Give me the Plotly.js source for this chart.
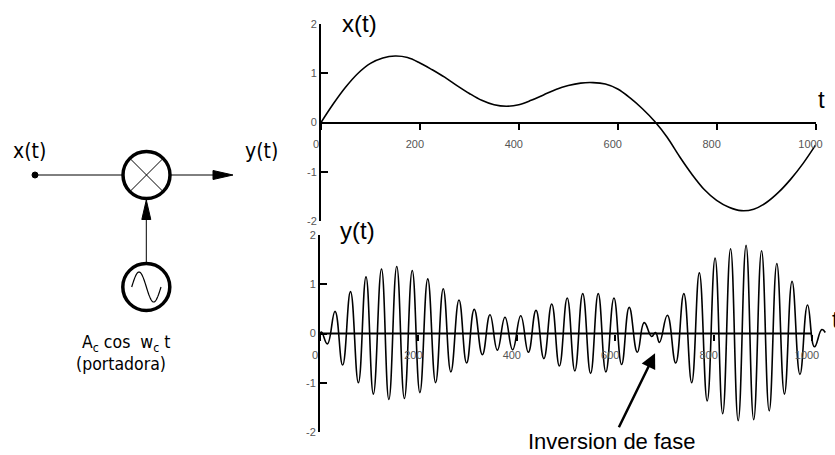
<!DOCTYPE html>
<html><head><meta charset="utf-8">
<script src="https://cdn.plot.ly/plotly-3.0.1.min.js"></script>
<style>html,body{margin:0;padding:0;background:#fff;} #chart{width:835px;height:455px;}</style>
</head><body><div id="chart"></div>
<script>
// ---- data ----
const xTimes  = [0,25,50,75,100,125,150,175,200,225,250,275,300,325,350,375,400,425,450,475,500,525,550,575,600,625,650,675,700,725,750,775,800,825,850,875,900,925,950,975,1000];
const xValues = [0,0.38,0.72,1.00,1.20,1.31,1.35,1.32,1.21,1.07,0.92,0.75,0.59,0.45,0.36,0.33,0.36,0.45,0.56,0.67,0.75,0.80,0.81,0.78,0.68,0.50,0.28,0.02,-0.30,-0.69,-1.05,-1.36,-1.58,-1.72,-1.79,-1.76,-1.63,-1.42,-1.15,-0.83,-0.46];

// extrema of the modulated signal y(t)
const yTimes  = [0,3,15,30.5,46,62,78,93.5,108.5,125,140,156,171.5,187.5,203,219,235,250.5,266,282.5,298,313.5,330,345.5,360.5,376,391.5,408,423.5,439,455,471,486.5,502.5,518,534,550,565.5,581,597.5,613,628.5,645,659,674,682,690,706,723,739.5,755.5,771,787,803,818.5,834.5,850,866,881.5,897.5,913,928.5,944,959.5,975.5,991,1005,1020,1027];
const yValues = [0,0.03,-0.21,0.45,-0.64,0.85,-1.0,1.15,-1.23,1.31,-1.34,1.36,-1.32,1.28,-1.2,1.11,-1.0,0.91,-0.78,0.68,-0.6,0.49,-0.43,0.38,-0.34,0.33,-0.33,0.36,-0.38,0.47,-0.51,0.6,-0.66,0.72,-0.76,0.81,-0.81,0.81,-0.78,0.72,-0.63,0.53,-0.38,0.22,-0.06,0.02,-0.18,0.37,-0.6,0.81,-1.0,1.23,-1.37,1.53,-1.63,1.72,-1.77,1.79,-1.75,1.68,-1.57,1.42,-1.23,1.06,-0.83,0.58,-0.27,0.08,0.02];

const tickVals  = [0,200,400,600,800,1000];
const tickText  = ['0','200','400','600','800','1000'];
const yTickVals = [-2,-1,0,1,2];
const yTickText = ['-2','-1','0','1','2'];
const inversionT = 681, inversionY = -0.4;

// ---- layout helpers (pixels -> paper) ----
const W = 835, H = 455;
const px = x => x / W;
const py = y => 1 - y / H;
const P = (x, y) => px(x).toFixed(5) + ',' + py(y).toFixed(5);

const tickFont = {family: 'Liberation Sans, Arial, sans-serif', size: 11, color: '#555'};
const topDom = [py(221), py(24)];
const botDom = [py(432), py(235)];

const traces = [
  {x: xTimes, y: xValues, xaxis: 'x', yaxis: 'y', mode: 'lines',
   line: {color: '#000', width: 1.6, shape: 'spline', smoothing: 1}, hoverinfo: 'skip'},
  {x: yTimes, y: yValues, xaxis: 'x2', yaxis: 'y2', mode: 'lines',
   line: {color: '#000', width: 1.6, shape: 'spline', smoothing: 1.3}, hoverinfo: 'skip'}
];

const xCommon = {
  tickmode: 'array', tickvals: tickVals, ticktext: tickText, ticks: 'outside', ticklen: 6,
  tickwidth: 2, tickcolor: '#000', tickfont: tickFont, showgrid: false, zeroline: false,
  anchor: 'free', ticklabelshift: -5, ticklabelstandoff: 5
};
const yCommon = {
  range: [-2, 2], tickmode: 'array', tickvals: yTickVals, ticktext: yTickText, ticks: 'inside',
  ticklen: 7, tickwidth: 2, tickcolor: '#000', tickfont: tickFont, showgrid: false, zeroline: false,
  showline: true, linecolor: '#000', linewidth: 2
};

// diagram geometry (pixels)
const mC = {x: 146.5, y: 175, r: 23.5};
const oC = {x: 146.3, y: 287, r: 23.5};
const cr = 16.6;
let sine = 'M' + P(131.7, oC.y);
for (let i = 1; i <= 48; i++) {
  const u = i / 48;
  sine += ' L' + P(131.7 + u * (161 - 131.7), oC.y - 15 * Math.sin(2 * Math.PI * u));
}

const blk = {color: '#000', width: 1};
const shapes = [
  // bottom zero line ending at last tick
  {type: 'line', xref: 'x2', yref: 'y2', x0: tickVals[0], x1: tickVals[tickVals.length - 1], y0: 0, y1: 0,
   line: {color: '#000', width: 2}},
  // multiplier
  {type: 'circle', xref: 'paper', yref: 'paper', x0: px(mC.x - mC.r), x1: px(mC.x + mC.r),
   y0: py(mC.y + mC.r), y1: py(mC.y - mC.r), line: {color: '#000', width: 3.5}},
  {type: 'line', xref: 'paper', yref: 'paper', x0: px(mC.x - cr), y0: py(mC.y - cr), x1: px(mC.x + cr), y1: py(mC.y + cr), line: blk},
  {type: 'line', xref: 'paper', yref: 'paper', x0: px(mC.x - cr), y0: py(mC.y + cr), x1: px(mC.x + cr), y1: py(mC.y - cr), line: blk},
  // input line and dot
  {type: 'line', xref: 'paper', yref: 'paper', x0: px(35), y0: py(175), x1: px(mC.x - mC.r), y1: py(175), line: blk},
  {type: 'circle', xref: 'paper', yref: 'paper', x0: px(32), x1: px(38), y0: py(178), y1: py(172),
   fillcolor: '#000', line: {color: '#000', width: 1}},
  // output line and arrow
  {type: 'line', xref: 'paper', yref: 'paper', x0: px(mC.x + mC.r), y0: py(175), x1: px(215), y1: py(175), line: blk},
  {type: 'path', xref: 'paper', yref: 'paper', path: 'M' + P(213, 170.5) + ' L' + P(233, 175) + ' L' + P(213, 179.5) + ' Z',
   fillcolor: '#000', line: {color: '#000', width: 1}},
  // vertical carrier line and arrow
  {type: 'line', xref: 'paper', yref: 'paper', x0: px(146.3), y0: py(219), x1: px(146.3), y1: py(oC.y - oC.r), line: blk},
  {type: 'path', xref: 'paper', yref: 'paper', path: 'M' + P(141.8, 219.5) + ' L' + P(146.3, 200) + ' L' + P(150.8, 219.5) + ' Z',
   fillcolor: '#000', line: {color: '#000', width: 1}},
  // oscillator
  {type: 'circle', xref: 'paper', yref: 'paper', x0: px(oC.x - oC.r), x1: px(oC.x + oC.r),
   y0: py(oC.y + oC.r), y1: py(oC.y - oC.r), line: {color: '#000', width: 3.5}},
  {type: 'path', xref: 'paper', yref: 'paper', path: sine, line: {color: '#000', width: 1.2}}
];

const dFont = {family: 'DejaVu Sans Condensed, DejaVu Sans, sans-serif', color: '#000'};
const aFont = {family: 'Liberation Sans, Arial, sans-serif', color: '#000', size: 22};
const tFont = {family: 'Liberation Sans, Arial, sans-serif', color: '#000', size: 24};
const ann = (text, x, y, font, xanchor) => ({text, xref: 'paper', yref: 'paper', x: px(x), y: py(y),
  xanchor: xanchor || 'center', yanchor: 'middle', showarrow: false, font});

const annotations = [
  ann('x(t)', 29, 151, Object.assign({size: 21}, dFont)),
  ann('y(t)', 261, 151, Object.assign({size: 21}, dFont)),
  ann('A<sub>c</sub> cos\u00a0 w<sub>c</sub> t', 80, 343, Object.assign({size: 17.5}, dFont), 'left'),
  ann('(portadora)', 74, 364, Object.assign({size: 17.5}, dFont), 'left'),
  ann('x(t)', 359, 23, tFont),
  ann('y(t)', 357.5, 230, tFont),
  ann('t', 821, 99, tFont),
  ann('t', 830, 319, tFont, 'left'),
  {text: 'Inversion de fase', xref: 'x2', yref: 'y2', x: inversionT, y: inversionY, ax: -43, ay: 88,
   showarrow: true, arrowhead: 2, arrowsize: 1.2, arrowwidth: 2.5, arrowcolor: '#000', standoff: 0,
   font: aFont}
];

const layout = {
  width: W, height: H, margin: {l: 0, r: 0, t: 0, b: 0},
  paper_bgcolor: '#fff', plot_bgcolor: 'rgba(0,0,0,0)', showlegend: false,
  xaxis: Object.assign({}, xCommon, {domain: [px(321), px(815.5)], range: [0, 1000],
    position: (topDom[0] + topDom[1]) / 2, showline: true, linecolor: '#000', linewidth: 2}),
  yaxis: Object.assign({}, yCommon, {domain: topDom, anchor: 'x'}),
  xaxis2: Object.assign({}, xCommon, {domain: [px(320), px(320 + 1040 * 0.492)], range: [0, 1040],
    position: (botDom[0] + botDom[1]) / 2, showline: false}),
  yaxis2: Object.assign({}, yCommon, {domain: botDom, anchor: 'x2'}),
  shapes, annotations
};

Plotly.newPlot('chart', traces, layout, {staticPlot: true, displayModeBar: false});
</script></body></html>
